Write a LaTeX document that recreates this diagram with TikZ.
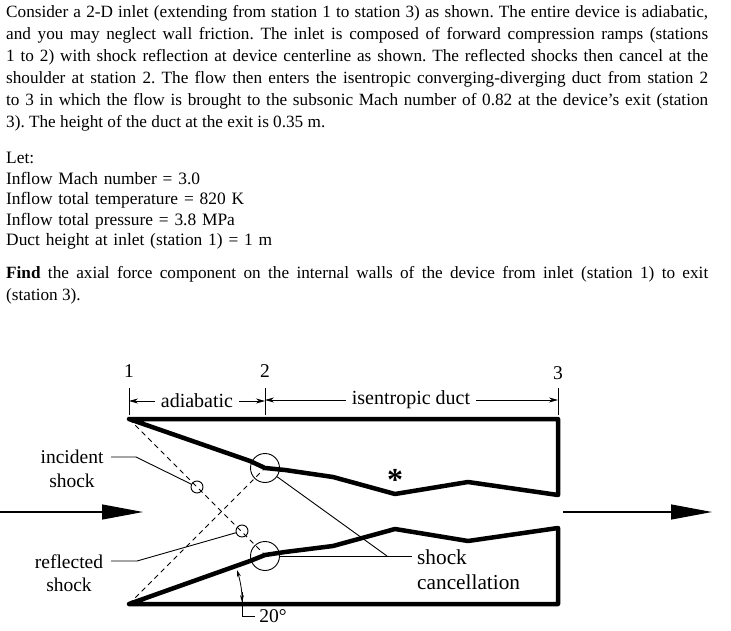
\documentclass[tikz,border=0pt]{standalone}
\usepackage{fontspec}
\setmainfont{Liberation Serif}
\frenchspacing
\usetikzlibrary{arrows.meta, positioning}
\tikzset{
        para/.style={anchor=north west, inner sep=0pt, text width=702pt, align=justify, font=\fontsize{17.2}{22}\selectfont},
        listbox/.style={anchor=north west, inner sep=0pt, text width=702pt, align=left, font=\fontsize{17.4}{20.6}\selectfont},
        label/.style={inner sep=0pt, font=\fontsize{19.5}{23.5}\selectfont},
        dimlabel/.style={inner sep=6pt, font=\fontsize{20}{23.5}\selectfont},
        wall/.style={line width=4.5pt, line join=round, line cap=round},
        thinline/.style={line width=0.9pt},
        shockline/.style={line width=0.8pt, dashed, dash pattern=on 5pt off 4pt},
        dimarrow/.style={-{Stealth[length=9pt, width=5pt]}, line width=0.7pt},
        flowarrow/.style={-{Triangle[length=41pt, width=15pt]}, line width=1.2pt},
        ring/.style={circle, draw, line width=0.9pt, inner sep=0pt, minimum size=29pt},
        smallring/.style={circle, draw, line width=0.9pt, inner sep=0pt, minimum size=12pt},
    }
\begin{document}
\begin{tikzpicture}[x=1pt, y=-1pt]
        \useasboundingbox (0,0) rectangle (731,631);

        % === PROBLEM TEXT ===
        \node[para] (intro) at (6,5) {Consider a 2-D inlet (extending from station 1 to station 3) as shown. The entire device is adiabatic,\linebreak
            and you may neglect wall friction. The inlet is composed of forward compression ramps (stations\linebreak
            1 to 2) with shock reflection at device centerline as shown. The reflected shocks then cancel at the\linebreak
            shoulder at station 2. The flow then enters the isentropic converging-diverging duct from station 2\linebreak
            to 3 in which the flow is brought to the subsonic Mach number of 0.82 at the device's exit (station\linebreak
            3). The height of the duct at the exit is 0.35 m.};
        \node[listbox] (given) at (6,152) {Let:\\Inflow Mach number = 3.0\\Inflow total temperature = 820 K\\Inflow total pressure = 3.8 MPa\\Duct height at inlet (station 1) = 1 m};
        \node[para] (find) at (6,266) {\textbf{Find} the axial force component on the internal walls of the device from inlet (station 1) to exit\linebreak (station 3).};

        % === STATIONS ===
        \node[label] (st1) at (129,371) {1};
        \node[label] (st2) at (265,371) {2};
        \node[label] (st3) at (558,373) {3};
        \coordinate (tick1a) at (129,388);
        \coordinate (tick1b) at (129,415);
        \coordinate (tick2a) at (265,388);
        \coordinate (tick2b) at (265,415);
        \coordinate (tick3a) at (558,388);
        \coordinate (tick3b) at (558,415);
        \draw[thinline] (tick1a) -- (tick1b);
        \draw[thinline] (tick2a) -- (tick2b);
        \draw[thinline] (tick3a) -- (tick3b);

        \node[dimlabel] (adiab) at (197,401) {adiabatic};
        \node[dimlabel] (isen) at (411,400) {isentropic duct};
        \draw[dimarrow] (adiab.west) -- (tick1a |- adiab.west);
        \draw[dimarrow] (adiab.east) -- (tick2a |- adiab.east);
        \draw[dimarrow] (isen.west) -- (tick2a |- isen.west);
        \draw[dimarrow] (isen.east) -- (tick3a |- isen.east);

        % === DUCT WALLS ===
        \coordinate (inlettop) at (129,419);
        \coordinate (inletbot) at (129,604);
        \coordinate (shoulderup) at (265,468);
        \coordinate (shoulderlow) at (265,555);
        \coordinate (exittop) at (558,419);
        \coordinate (exitup) at (558,495);
        \coordinate (exitlow) at (558,528);
        \coordinate (exitbot) at (558,604);

        \draw[wall] (inlettop) -- (exittop) -- (exitup) -- (468,482) -- (395,494) -- (333,477)
            -- (285,470) -- (shoulderup) -- (250,461) -- (inlettop);
        \draw[wall] (inletbot) -- (exitbot) -- (exitlow) -- (468,541) -- (395,529) -- (333,546)
            -- (285,552) -- (shoulderlow) -- (250,561) -- (inletbot);

        % === SHOCKS ===
        \draw[shockline] (inlettop) -- (shoulderlow);
        \draw[shockline] (inletbot) -- (shoulderup);

        \node[ring] (ringup) at (265,468) {};
        \node[ring] (ringlow) at (265,556) {};
        \node[smallring] (ringinc) at (197,487) {};
        \node[smallring] (ringref) at (242,531) {};

        % === LEADERS ===
        \node[label, align=center] (incident) at (72,469) {incident\\shock};
        \node[label, align=center] (reflected) at (69,573) {reflected\\shock};
        \node[inner sep=0pt, font=\fontsize{21.3}{25}\selectfont, align=left, anchor=west] (cancel) at (417,570) {shock\\cancellation};
        \coordinate (cancelpt) at (387,556);

        \draw[thinline] (111,457) -- (136,457) -- (ringinc);
        \draw[thinline] (111,561) -- (137,561) -- (ringref);
        \draw[thinline] (ringup) -- (cancelpt);
        \draw[thinline] (ringlow.east) -- (412,556);

        \node[inner sep=0pt, font=\fontsize{32}{32}\bfseries\selectfont] (throat) at (395,480) {*};

        % === FLOW ARROWS ===
        \coordinate (flowinA) at (0,512);
        \coordinate (flowinB) at (143,512);
        \coordinate (flowoutA) at (563,512);
        \coordinate (flowoutB) at (712,512);
        \draw[flowarrow] (flowinA) -- (flowinB);
        \draw[flowarrow] (flowoutA) -- (flowoutB);

        % === RAMP ANGLE ===
        \node[label] (angle) at (273,616) {20°};
        \coordinate (arcup) at (237,570);
        \coordinate (arclow) at (242,602);
        \draw[{Stealth[length=7pt, width=4pt]}-{Stealth[length=7pt, width=4pt]}, line width=0.8pt] (arcup) .. controls (240,580) and (242,590) .. (arclow);
        \draw[thinline] (242,592) -- (242,616) -- ([xshift=-4pt]angle.west);

    \end{tikzpicture}
\end{document}
